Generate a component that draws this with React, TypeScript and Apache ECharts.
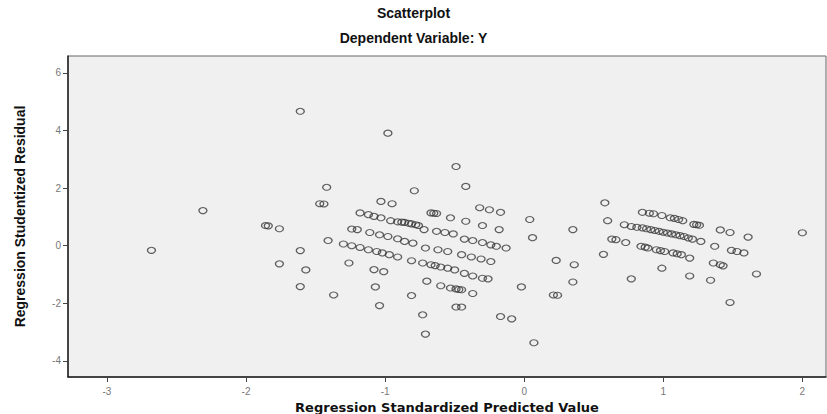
import React, { useEffect, useRef } from "react";
import * as echarts from "echarts";

// Regression standardized predicted values (x) and studentized residuals (y)
const outlierPredicted = [
  -2.68, -2.31, -1.86, -1.84, -1.76, -1.61, -1.61, -1.76, -1.57, -1.61, -1.47, -1.44, -1.42, -1.41, -1.26,
  -1.37, -1.08, -1.01, -1.07, -1.04, -0.98, -1.03, -0.95, -0.79, -0.67, -0.65, -0.63, -0.53, -0.42, -0.49,
  -0.42, -0.32, -0.25, -0.17, -0.30, -0.18, 0.04, 0.06, -0.81, -0.70, -0.73, -0.71, -0.49, -0.45, -0.37,
  -0.17, -0.09, -0.02, 0.07, 0.23, 0.21, 0.24, 0.35, 0.36, 0.35, 0.58, 0.60, 0.57,
];
const outlierResidual = [
  -0.16, 1.22, 0.70, 0.69, 0.59, 4.67, -0.17, -0.63, -0.84, -1.42, 1.46, 1.45, 2.03, 0.18, -0.60,
  -1.71, -0.83, -0.90, -1.43, -2.08, 3.91, 1.54, 1.46, 1.91, 1.14, 1.13, 1.12, 0.97, 0.85, 2.75,
  2.06, 1.32, 1.25, 1.16, 0.70, 0.56, 0.91, 0.28, -1.73, -1.23, -2.40, -3.07, -2.13, -2.13, -1.66,
  -2.46, -2.54, -1.43, -3.37, -0.51, -1.71, -1.72, 0.56, -0.66, -1.26, 1.49, 0.87, -0.30,
];

const leftBandPredicted = [
  // band A
  -1.18, -1.12, -1.08, -1.03, -0.96, -0.91, -0.88, -0.86, -0.83, -0.81, -0.78, -0.76, -0.72, -0.63, -0.57,
  -0.51, -0.43, -0.37, -0.30, -0.24, -0.20, -0.13,
  // band B
  -1.24, -1.20, -1.11, -1.04, -0.98, -0.91, -0.86, -0.80, -0.71, -0.62, -0.55, -0.45, -0.38, -0.31, -0.24,
  // band C
  -1.30, -1.24, -1.18, -1.12, -1.06, -1.02, -0.97, -0.91, -0.81, -0.73, -0.67, -0.64, -0.60, -0.55, -0.50,
  -0.43, -0.37, -0.30, -0.26,
  // band D
  -0.60, -0.53, -0.49, -0.47, -0.45,
];
const leftBandResidual = [
  1.14, 1.08, 1.02, 0.97, 0.87, 0.83, 0.82, 0.81, 0.78, 0.76, 0.73, 0.70, 0.56, 0.50, 0.46,
  0.41, 0.23, 0.18, 0.11, 0.03, -0.02, -0.08,
  0.58, 0.56, 0.46, 0.38, 0.32, 0.24, 0.15, 0.09, -0.08, -0.14, -0.20, -0.31, -0.39, -0.46, -0.55,
  0.06, 0.0, -0.06, -0.14, -0.20, -0.25, -0.31, -0.39, -0.52, -0.60, -0.66, -0.69, -0.74, -0.78, -0.84,
  -0.96, -1.05, -1.13, -1.15,
  -1.39, -1.47, -1.50, -1.52, -1.53,
];

const rightBandPredicted = [
  // band R1
  0.85, 0.90, 0.93, 0.99, 1.05, 1.08, 1.11, 1.14, 1.22, 1.24, 1.26,
  // band R2
  0.72, 0.77, 0.81, 0.85, 0.88, 0.91, 0.94, 0.97, 1.00, 1.03, 1.06, 1.09, 1.12, 1.15, 1.18, 1.21, 1.27,
  // band R3
  0.63, 0.66, 0.73, 0.84, 0.87, 0.89, 0.95, 0.98, 1.01, 1.07, 1.10, 1.13, 1.19,
  // scattered
  0.99, 1.19, 0.77, 1.34, 1.37, 1.36, 1.41, 1.43, 1.41, 1.48, 1.61, 2.0, 1.49, 1.53, 1.58, 1.67, 1.48,
];
const rightBandResidual = [
  1.16, 1.13, 1.11, 1.05, 0.97, 0.95, 0.91, 0.87, 0.74, 0.73, 0.71,
  0.73, 0.67, 0.64, 0.62, 0.59, 0.56, 0.53, 0.50, 0.47, 0.44, 0.41, 0.38, 0.35, 0.32, 0.27, 0.23, 0.15,
  0.23, 0.21, 0.11, -0.02, -0.05, -0.08, -0.14, -0.17, -0.20, -0.25, -0.28, -0.31, -0.43,
  -0.78, -1.05, -1.15, -1.20, -0.02, -0.60, -0.66, -0.70, 0.55, 0.46, 0.30, 0.45, -0.16, -0.20, -0.25, -0.98, -1.97,
];

const xTicks = [-3, -2, -1, 0, 1, 2];
const yTicks = [-4, -2, 0, 2, 4, 6];

function pairs(xs: number[], ys: number[]) {
  return xs.map((x, i) => [x, ys[i]]);
}

export default function App() {
  const ref = useRef<HTMLDivElement>(null);
  useEffect(() => {
    if (!ref.current) return;
    const chart = echarts.init(ref.current, null, { renderer: "svg" });
    const data = [
      ...pairs(outlierPredicted, outlierResidual),
      ...pairs(leftBandPredicted, leftBandResidual),
      ...pairs(rightBandPredicted, rightBandResidual),
    ];
    chart.setOption({
      animation: false,
      backgroundColor: "#ffffff",
      title: [
        {
          text: "Scatterplot",
          left: "center",
          top: 1,
          textStyle: { fontFamily: "Liberation Sans", fontWeight: "bold", fontSize: 14, color: "#111" },
        },
        {
          text: "Dependent Variable: Y",
          left: "center",
          top: 26,
          textStyle: { fontFamily: "Liberation Sans", fontWeight: "bold", fontSize: 14, color: "#111" },
        },
      ],
      grid: {
        left: 68,
        right: 1,
        top: 56,
        bottom: 37,
        containLabel: false,
        outerBoundsMode: "none",
        show: true,
        backgroundColor: "#f0f0f0",
        borderColor: "#666",
        borderWidth: 1,
      },
      xAxis: {
        type: "value",
        min: -3.28,
        max: 2.17,
        name: "Regression Standardized Predicted Value",
        nameLocation: "middle",
        nameGap: 18,
        nameTextStyle: { fontFamily: "DejaVu Sans", fontWeight: "bold", fontSize: 13, color: "#111" },
        splitLine: { show: false },
        axisLine: { show: true, onZero: false, lineStyle: { color: "#222", width: 1.5 } },
        axisTick: { show: true, length: 5, customValues: xTicks, lineStyle: { color: "#444" } },
        axisLabel: {
          customValues: xTicks,
          fontSize: 10,
          color: "#777",
          margin: 9,
          fontFamily: "Liberation Sans",
        },
      },
      yAxis: {
        type: "value",
        min: -4.56,
        max: 6.59,
        name: "Regression Studentized Residual",
        nameLocation: "middle",
        nameGap: 41,
        nameRotate: 90,
        nameTextStyle: {
          fontFamily: "Liberation Sans Narrow, Liberation Sans",
          fontWeight: "bold",
          fontSize: 14,
          color: "#111",
        },
        splitLine: { show: false },
        axisLine: { show: true, onZero: false, lineStyle: { color: "#222", width: 1.5 } },
        axisTick: { show: true, length: 5, customValues: yTicks, lineStyle: { color: "#444" } },
        axisLabel: {
          customValues: yTicks,
          fontSize: 10,
          color: "#777",
          margin: 7,
          fontFamily: "Liberation Sans",
        },
      },
      series: [
        {
          type: "scatter",
          data,
          symbol: "circle",
          symbolSize: [8, 6],
          itemStyle: { color: "rgba(0,0,0,0)", borderColor: "#3a3a3a", borderWidth: 1.2 },
        },
      ],
    });
    return () => chart.dispose();
  }, []);
  return <div ref={ref} style={{ position: "fixed", left: 0, top: 0, width: 827, height: 414 }} />;
}
